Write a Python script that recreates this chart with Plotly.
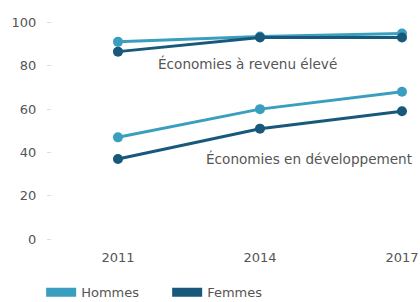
import plotly.graph_objects as go

years = [2011, 2014, 2017]
high_hommes = [91, 93.5, 94.8]
high_femmes = [86.5, 93, 93]
dev_hommes = [47, 60, 68]
dev_femmes = [37, 51, 59]
ytick_vals = [0, 20, 40, 60, 80, 100]

c_h = "#3a9fbf"
c_f = "#17587b"
font_fam = "DejaVu Sans, sans-serif"
gray = "#555555"

fig = go.Figure()
for ys, col in [(high_hommes, c_h), (high_femmes, c_f), (dev_hommes, c_h), (dev_femmes, c_f)]:
    fig.add_trace(go.Scatter(x=years, y=ys, mode="lines+markers",
                             line=dict(color=col, width=3),
                             marker=dict(color=col, size=10),
                             showlegend=False, hoverinfo="skip"))
# legend-only entries
for name, col in [("Hommes", c_h), ("Femmes", c_f)]:
    fig.add_trace(go.Scatter(x=[None], y=[None], mode="lines", name=name,
                             line=dict(color=col, width=9)))

fig.add_annotation(x=2013.73, y=81, text="Économies à revenu élevé", showarrow=False,
                   font=dict(family=font_fam, size=13.6, color=gray))
fig.add_annotation(x=2015.04, y=37.3, text="Économies en développement", showarrow=False,
                   font=dict(family=font_fam, size=13.6, color=gray))

fig.update_layout(
    width=420, height=302,
    margin=dict(l=52, r=0, t=18, b=54),
    paper_bgcolor="white", plot_bgcolor="white",
    font=dict(family=font_fam, size=13, color=gray),
    xaxis=dict(range=[2009.606, 2017.381], tickvals=years, ticktext=[str(y) for y in years],
               showgrid=False, zeroline=False, showline=False, ticks="", automargin=False,
               tickfont=dict(size=13)),
    yaxis=dict(range=[-4, 102], tickvals=ytick_vals, showgrid=False, zeroline=False,
               showline=False, ticks="outside", ticklen=4, tickcolor="#dddddd",
               ticklabelstandoff=8, automargin=False, tickfont=dict(size=13)),
    legend=dict(orientation="h", x=0.098, xref="container", y=0.032, yref="container",
                yanchor="middle", xanchor="left", font=dict(size=13, color=gray),
                entrywidth=81, entrywidthmode="pixels"),
)
fig.write_html("out.html", config={"displayModeBar": False},
               post_script="document.body.style.margin='0';document.body.style.overflow='hidden';")
